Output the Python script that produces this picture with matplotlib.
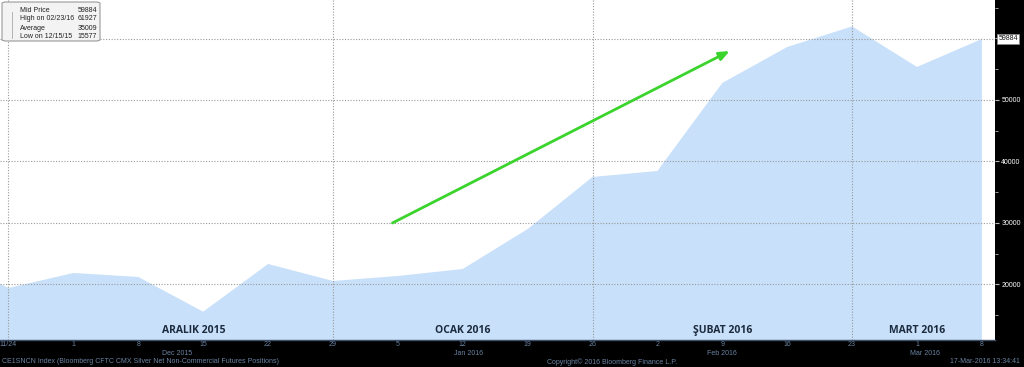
import numpy as np
import pandas as pd
import matplotlib
matplotlib.use('Agg')
import matplotlib.pyplot as plt
import matplotlib.dates as mdates
from matplotlib.patches import FancyBboxPatch
from matplotlib.ticker import MultipleLocator

# Weekly CFTC values (CE1SNCN Index)
dates = pd.to_datetime(['2015-11-17', '2015-11-24', '2015-12-01', '2015-12-08', '2015-12-15',
                        '2015-12-22', '2015-12-29', '2016-01-05', '2016-01-12', '2016-01-19',
                        '2016-01-26', '2016-02-02', '2016-02-09', '2016-02-16', '2016-02-23',
                        '2016-03-01', '2016-03-08'])
values = [24500, 19430, 21870, 21220, 15577,
          23330, 20570, 21380, 22520, 29000,
          37470, 38440, 52740, 58580, 61927,
          55340, 59884]

day_labels = ['11/24', '1', '8', '15', '22', '29', '5', '12', '19', '26', '2', '9', '16', '23', '1', '8']
month_labels = ['Dec 2015', 'Jan 2016', 'Feb 2016', 'Mar 2016']
month_pos = pd.to_datetime(['2015-12-12 05:00', '2016-01-12 14:00', '2016-02-09 00:00', '2016-03-01 20:00'])
vgrid_dates = pd.to_datetime(['2015-11-24', '2015-12-29', '2016-01-26', '2016-02-23'])

turk_labels = ['ARALIK 2015', 'OCAK 2016', 'ŞUBAT 2016', 'MART 2016']
turk_pos = pd.to_datetime(['2015-12-14', '2016-01-12', '2016-02-09', '2016-03-01'])

legend_rows = [('Mid Price', '59884'), ('High on 02/23/16', '61927'),
               ('Average', '35009'), ('Low on 12/15/15', '15577')]

arrow_start = (pd.Timestamp('2016-01-04 10:00'), 29990)
arrow_end = (pd.Timestamp('2016-02-09 19:00'), 57930)

small_font = ['Liberation Sans', 'DejaVu Sans']
axis_blue = '#6b84a3'

# Figure layout
fig = plt.figure(figsize=(10.24, 3.67), dpi=100, facecolor='black')
ax = fig.add_axes([0, 27 / 367, 995 / 1024, 340 / 367])
ax.set_facecolor('white')

x = mdates.date2num(dates)
ax.fill_between(x, values, 0, color='#c8e0fa', lw=0, zorder=1)

ax.set_xlim(mdates.date2num(pd.Timestamp('2015-11-23 02:00')),
            mdates.date2num(pd.Timestamp('2016-03-09 10:00')))
ax.set_ylim(10980, 66220)

# grid
for v in [20000, 30000, 40000, 50000, values[-1]]:
    ax.axhline(v, color='#999999', lw=0.8, ls=(0, (1, 1.5)), zorder=2)
for d in vgrid_dates:
    ax.axvline(mdates.date2num(d), color='#999999', lw=0.8, ls=(0, (1, 1.5)), zorder=2)

# right axis
ax.yaxis.tick_right()
ax.yaxis.set_major_locator(MultipleLocator(10000))
ax.yaxis.set_minor_locator(MultipleLocator(5000))
ax.tick_params(axis='y', which='both', direction='out', colors='#bbbbbb',
               labelcolor='white', labelsize=5, pad=1.5)
ax.tick_params(axis='y', which='major', length=3)
ax.tick_params(axis='y', which='minor', length=2)
ax.yaxis.set_major_formatter(matplotlib.ticker.FuncFormatter(
    lambda v, p: '' if v < 15000 or v > 55000 else '%d' % v))
for t in ax.get_yticklabels():
    t.set_family(small_font)

# bottom axis
ax.set_xticks(x[1:])
ax.set_xticklabels(day_labels, fontsize=5, color=axis_blue, family=small_font)
ax.tick_params(axis='x', length=0, pad=1)
for s in ['top', 'left', 'right']:
    ax.spines[s].set_visible(False)
ax.spines['bottom'].set_color('#3e4f66')
ax.spines['bottom'].set_linewidth(1.0)

for lab, d in zip(month_labels, month_pos):
    ax.text(mdates.date2num(d), -0.039, lab, transform=ax.get_xaxis_transform(),
            ha='center', va='center', fontsize=5, color=axis_blue, family=small_font)

fig.text(0.002, 0.014, 'CE1SNCN Index (Bloomberg CFTC CMX Silver Net Non-Commercial Futures Positions)',
         fontsize=5, color=axis_blue, ha='left', va='center', family=small_font)
fig.text(0.534, 0.014, 'Copyright\u00a9 2016 Bloomberg Finance L.P.',
         fontsize=5, color=axis_blue, ha='left', va='center', family=small_font)
fig.text(0.996, 0.014, '17-Mar-2016 13:34:41',
         fontsize=5, color=axis_blue, ha='right', va='center', family=small_font)

# last price tag
ax.annotate('%d' % values[-1], xy=(1.0, values[-1]), xycoords=('axes fraction', 'data'),
            xytext=(2.5, 0), textcoords='offset points', ha='left', va='center',
            fontsize=5, color='#111111', family=small_font,
            bbox=dict(boxstyle='square,pad=0.2', fc='white', ec='#888888', lw=0.5),
            annotation_clip=False)

# month names (Turkish)
for lab, d in zip(turk_labels, turk_pos):
    ax.text(mdates.date2num(d), 12600, lab, ha='center', va='center', fontsize=7.5,
            fontweight='bold', color='#1c2b3d', family='Open Sans', zorder=4)

# green arrow
ax.annotate('', xy=(mdates.date2num(arrow_end[0]), arrow_end[1]),
            xytext=(mdates.date2num(arrow_start[0]), arrow_start[1]),
            arrowprops=dict(arrowstyle='-|>,head_length=0.6,head_width=0.25',
                            color='#3ad42c', lw=2.0, shrinkA=0, shrinkB=0), zorder=5)

# legend box
box = FancyBboxPatch((2 / 1024, 1 - 41 / 367), 98 / 1024, 39 / 367,
                     boxstyle='round,pad=0,rounding_size=0.004', transform=fig.transFigure,
                     fc='#f3f3f3', ec='#999999', lw=0.8, zorder=10)
fig.patches.append(box)
for i, (lab, val) in enumerate(legend_rows):
    yy = 1 - (10 + i * 9) / 367
    fig.text(20 / 1024, yy, lab, fontsize=5, color='#222222', ha='left', va='center',
             family=small_font, zorder=11)
    fig.text(97 / 1024, yy, val, fontsize=5, color='#222222', ha='right', va='center',
             family=small_font, zorder=11)
fig.lines.append(plt.Line2D([12 / 1024, 12 / 1024], [1 - 12 / 367, 1 - 38 / 367],
                            transform=fig.transFigure, color='#aaaaaa', lw=0.6, zorder=11))

fig.savefig('out.png', dpi=100, facecolor='black')
